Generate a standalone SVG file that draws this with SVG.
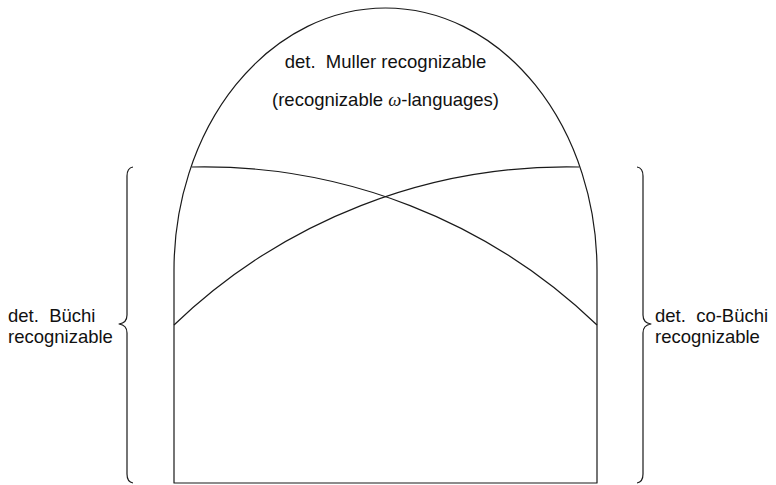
<svg xmlns="http://www.w3.org/2000/svg" width="776" height="485" viewBox="0 0 776 485">
<style>
.ln{fill:none;stroke:#1a1a1a;stroke-width:1.2;stroke-linejoin:round}
.t{font-family:"Liberation Sans","DejaVu Sans",sans-serif;font-size:18.5px;fill:#111;white-space:pre}
</style>
<rect width="776" height="485" fill="#fff"/>
<g id="arch">
<path class="ln" d="M174,483 L174,270 A211.5,262 0 0 1 597,270 L597,483 Z"/>
</g>
<g id="connectors">
<path class="ln" d="M174,325 A567,567 0 0 1 579.3,167"/>
<path class="ln" d="M191.7,167 A567,567 0 0 1 597,325"/>
</g>
<g id="left-brace">
<path class="ln" d="M133,167 Q127,168 127,176 L127,315 Q127,323 119,324 Q127,325 127,333 L127,474 Q127,482 133,483"/>
</g>
<g id="right-brace">
<path class="ln" d="M637,167 Q643,168 643,176 L643,315 Q643,323 651,324 Q643,325 643,333 L643,474 Q643,482 637,483"/>
</g>
<g id="muller-label">
<text class="t" x="385.5" y="68" text-anchor="middle" xml:space="preserve">det.  Muller recognizable</text>
<text class="t" x="385.5" y="106" text-anchor="middle">(recognizable <tspan font-family="Liberation Serif, serif" font-style="italic">ω</tspan>-languages)</text>
</g>
<g id="buchi-label">
<text class="t" x="8" y="322" xml:space="preserve">det.  Büchi</text>
<text class="t" x="8" y="343">recognizable</text>
</g>
<g id="cobuchi-label">
<text class="t" x="655" y="322" xml:space="preserve">det.  co-Büchi</text>
<text class="t" x="655" y="343">recognizable</text>
</g>
</svg>
